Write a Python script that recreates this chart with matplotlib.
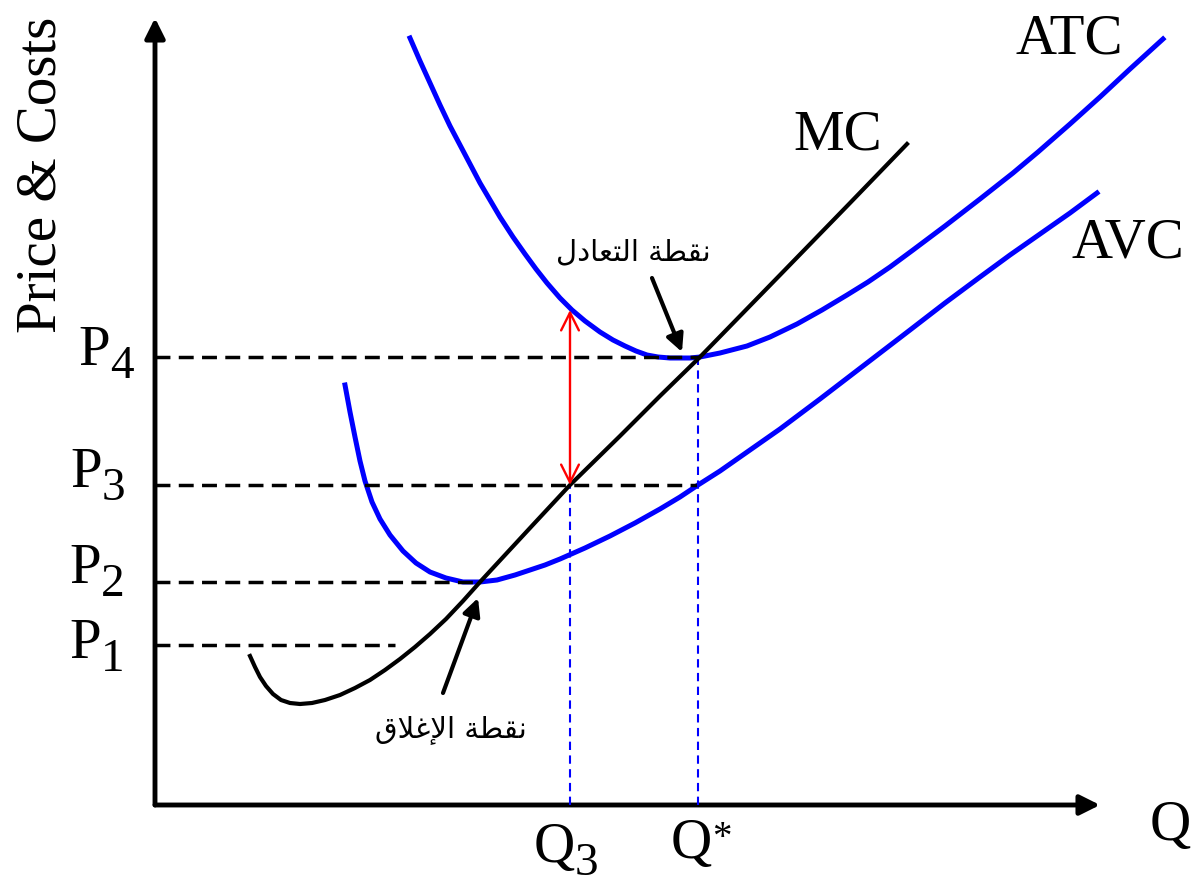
import matplotlib
matplotlib.use("Agg")
import matplotlib.pyplot as plt

plt.rcParams['font.family'] = ['Liberation Serif', 'DejaVu Sans']

# curves (Q across, price up)
atc_q = [25.5, 26.5, 27.5, 28.5, 29.5, 30.5, 31.5, 32.5, 33.5, 34.5, 35.8, 37.0,
         38.1, 39.2, 40.5, 41.7, 43.0, 44.5, 45.8, 47.0, 48.1, 49.2, 50.3, 51.5,
         52.5, 53.5, 54.5, 56.5, 59.2, 61.5, 64.2, 66.7, 69.2, 71.3, 73.5, 75.8,
         79.0, 82.5, 85.8, 88.3, 91.5, 94.5, 97.5, 100.8]
atc_p = [76.7, 74.4, 72.2, 70.0, 67.9, 66.0, 64.1, 62.2, 60.5, 58.8, 56.8, 55.1,
         53.6, 52.2, 50.7, 49.5, 48.4, 47.3, 46.5, 45.9, 45.4, 45.0, 44.8, 44.7,
         44.7, 44.7, 44.8, 45.2, 45.9, 46.8, 48.1, 49.5, 51.0, 52.3, 53.8, 55.5,
         57.9, 60.6, 63.2, 65.3, 68.1, 70.8, 73.6, 76.6]

avc_q = [19.0, 19.5, 20.0, 20.5, 21.0, 21.7, 22.5, 23.5, 24.8, 26.1, 27.5, 29.1,
         30.8, 32.5, 34.2, 36.0, 37.5, 39.0, 40.5, 43.0, 45.5, 48.0, 50.5, 52.5,
         54.3, 56.5, 58.5, 60.5, 62.5, 64.5, 66.5, 69.5, 72.5, 75.5, 79.0, 82.5,
         85.5, 88.5, 91.5, 94.2]
avc_p = [42.0, 39.3, 36.8, 34.4, 32.4, 30.3, 28.6, 27.0, 25.4, 24.2, 23.3, 22.7,
         22.3, 22.3, 22.5, 23.0, 23.5, 24.0, 24.6, 25.7, 26.9, 28.2, 29.6, 30.8,
         32.0, 33.4, 34.8, 36.2, 37.6, 39.1, 40.6, 42.9, 45.2, 47.5, 50.2, 52.8,
         55.0, 57.1, 59.2, 61.2]

mc_q = [9.5, 10.0, 10.5, 11.1, 11.8, 12.6, 13.5, 14.5, 15.7, 17.0, 18.5, 20.0,
        21.5, 23.0, 24.5, 26.0, 27.5, 29.1, 30.8, 32.5, 37.5, 41.5, 46.5, 50.5,
        54.5, 62.5, 69.5, 75.2]
mc_p = [14.9, 13.8, 12.8, 11.9, 11.1, 10.5, 10.2, 10.1, 10.2, 10.5, 11.0, 11.7,
        12.5, 13.5, 14.6, 15.8, 17.1, 18.6, 20.4, 22.3, 27.7, 32.0, 36.9, 40.9,
        44.8, 53.0, 60.2, 66.1]

# price levels P1..P4 and where their dashed guides stop
p_names = ['1', '2', '3', '4']
p_levels = [16.0, 22.3, 32.0, 44.8]
p_ends = [24.0, 32.5, 54.3, 54.5]

q3 = 41.5
q_star = 54.3
atc_at_q3 = 49.5

# Arabic labels in presentation forms, visual order (matplotlib does no shaping)
# "نقطة التعادل"
txt_breakeven = ('\uFEDD\uFEA9\uFE8E\uFECC\uFE98\uFEDF\uFE8D '
                 '\uFE94\uFEC4\uFED8\uFEE7')
# "نقطة الإغلاق"
txt_shutdown = ('\uFED5\uFEFC\uFECF\uFEF9\uFE8D '
                '\uFE94\uFEC4\uFED8\uFEE7')

fig = plt.figure(figsize=(12.02, 8.86), dpi=100)
ax = fig.add_axes([0, 0, 1, 1])
ax.set_xlim(-15.5, 104.7)
ax.set_ylim(-8.1, 80.5)
ax.axis('off')

blue = '#0000ff'

# axes with arrow heads
ax.annotate('', xy=(94.5, 0), xytext=(0, 0),
            arrowprops=dict(arrowstyle='-|>', color='k', lw=3.5,
                            mutation_scale=30, shrinkA=0, shrinkB=0))
ax.annotate('', xy=(0, 78.7), xytext=(0, 0),
            arrowprops=dict(arrowstyle='-|>', color='k', lw=3.5,
                            mutation_scale=30, shrinkA=0, shrinkB=0))

# cost curves
ax.plot(atc_q, atc_p, color=blue, lw=3.6, zorder=2, solid_joinstyle='round')
ax.plot(avc_q, avc_p, color=blue, lw=3.6, zorder=2, solid_joinstyle='round')
ax.plot(mc_q, mc_p, color='k', lw=3.0, zorder=4, solid_joinstyle='round')

# dashed price guides
for p, end in zip(p_levels, p_ends):
    ax.plot([0, end], [p, p], color='k', lw=2.5, dashes=(4.3, 2.4), zorder=3)

# blue dashed quantity guides
ax.plot([q3, q3], [0, p_levels[2]], color=blue, lw=1.5, dashes=(4, 2.6), zorder=3)
ax.plot([q_star, q_star], [0, p_levels[3]], color=blue, lw=1.5, dashes=(4, 2.6), zorder=3)

# red gap between ATC and P3 at Q3
ax.annotate('', xy=(q3, atc_at_q3), xytext=(q3, p_levels[2]),
            arrowprops=dict(arrowstyle='<->', color='red', lw=1.7,
                            mutation_scale=32, shrinkA=0, shrinkB=0), zorder=5)

# pointers to break-even and shutdown points
ax.annotate('', xy=(52.7, 45.3), xytext=(49.7, 52.7),
            arrowprops=dict(arrowstyle='-|>', color='k', lw=3,
                            mutation_scale=26, shrinkA=0, shrinkB=0), zorder=5)
ax.annotate('', xy=(32.3, 20.7), xytext=(28.8, 11.2),
            arrowprops=dict(arrowstyle='-|>', color='k', lw=3,
                            mutation_scale=26, shrinkA=0, shrinkB=0), zorder=5)

ax.text(47.8, 55.3, txt_breakeven, family='DejaVu Sans', fontsize=21,
        ha='center', va='center')
ax.text(29.6, 7.5, txt_shutdown, family='DejaVu Sans', fontsize=21,
        ha='center', va='center')

big = 41
small = 34

# curve names
ax.text(63.8, 65.5, 'MC', fontsize=big, ha='left', va='baseline')
ax.text(86.0, 75.2, 'ATC', fontsize=big, ha='left', va='baseline')
ax.text(91.7, 54.8, 'AVC', fontsize=big, ha='left', va='baseline')

ax.text(-11.3, 63.0, 'Price & Costs', fontsize=big, rotation=90,
        ha='center', va='center')
ax.text(99.5, -3.5, 'Q', fontsize=big, ha='left', va='baseline')


def sub_label(x, y, main, sub, dy):
    ax.text(x, y, main, fontsize=big, ha='right', va='baseline')
    ax.text(x, y - dy, sub, fontsize=small, ha='left', va='baseline')


# P labels: junction x and baseline
p_junction = [-5.4, -5.4, -5.3, -4.5]
p_base = [14.7, 22.2, 31.8, 44.0]
for name, jx, by in zip(p_names, p_junction, p_base):
    sub_label(jx, by, 'P', name, 1.3)

sub_label(42.0, -5.7, 'Q', '3', 1.3)
ax.text(55.7, -5.3, 'Q', fontsize=big, ha='right', va='baseline')
ax.text(55.7, -1.5, '*', fontsize=28, ha='left', va='top')

fig.savefig('out.png', dpi=100)
